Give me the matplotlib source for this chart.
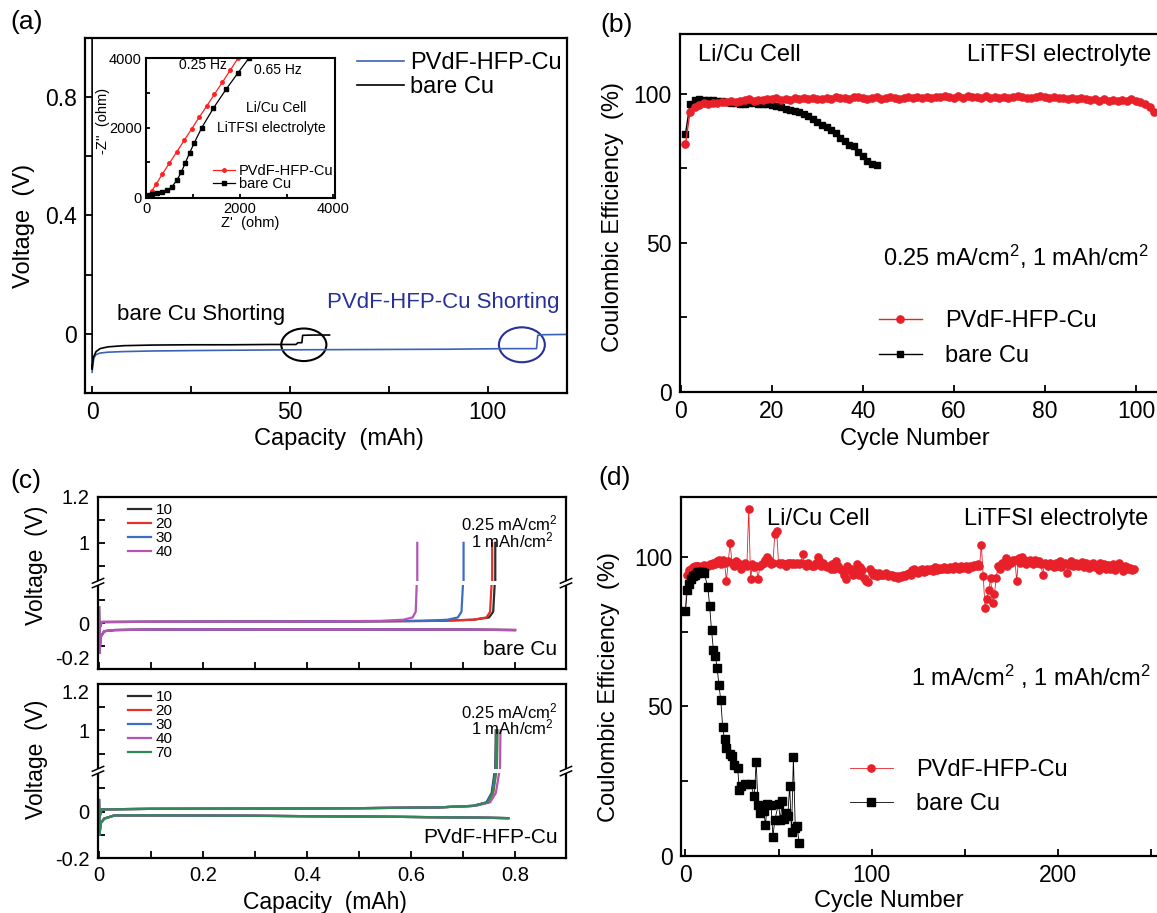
import numpy as np
import matplotlib
matplotlib.use("Agg")
import matplotlib.pyplot as plt
from matplotlib.patches import Ellipse, Rectangle
from matplotlib.ticker import MultipleLocator, FixedLocator, FixedFormatter, NullFormatter

plt.rcParams["font.family"] = ["Liberation Sans", "DejaVu Sans"]
plt.rcParams["mathtext.fontset"] = "custom"
plt.rcParams["mathtext.rm"] = "Liberation Sans"
plt.rcParams["mathtext.it"] = "Liberation Sans:italic"
plt.rcParams["mathtext.bf"] = "Liberation Sans:bold"

RED = "#e8202a"
BLUE = "#3b62b5"
NAVY = "#28309a"
C_COLORS = {"10": "#2b2b2b", "20": "#e8302a", "30": "#3c6fc4", "40": "#b455b6", "70": "#2e8b57"}

# ---------------- data ----------------
# (a) Li/Cu voltage vs capacity
a_bare_cap = [0, 0, 0.3, 1, 2, 4, 8, 15, 25, 35, 45, 51.5, 52, 53, 53.2, 56, 60]
a_bare_v = [1.2, -0.12, -0.08, -0.06, -0.05, -0.044, -0.04, -0.038, -0.037, -0.037,
            -0.036, -0.036, -0.03, -0.03, -0.005, -0.004, -0.004]
a_pvdf_cap = [0, 0.2, 0.5, 1, 2, 4, 8, 15, 30, 50, 70, 90, 105, 112.3, 112.6, 114, 120]
a_pvdf_v = [-0.13, -0.1, -0.08, -0.07, -0.065, -0.062, -0.06, -0.058, -0.056, -0.054,
            -0.053, -0.052, -0.05, -0.05, -0.005, -0.003, -0.002]
short_bare = (53.5, -0.037)
short_pvdf = (108.6, -0.037)

# (a) inset: Nyquist
eis_pvdf_re = [0, 40, 100, 200, 330, 480, 640, 800, 960, 1120, 1290, 1450, 1620, 1790, 1960]
eis_pvdf_im = [0, 40, 170, 380, 660, 970, 1300, 1630, 1960, 2290, 2630, 2960, 3300, 3650, 4000]
eis_bare_re = [0, 36, 100, 214, 320, 429, 540, 643, 740, 821, 920, 1020, 1179, 1429, 1700, 1950, 2193]
eis_bare_im = [0, 50, 90, 117, 150, 195, 300, 488, 720, 976, 1280, 1570, 2000, 2560, 3100, 3560, 4000]

# (b) CE at 0.25 mA/cm2
b_pvdf_cycle = list(range(1, 105))
b_pvdf_ce = [83, 94, 95.5, 96.2, 96.8, 96.5, 97, 96.8, 97.3, 97.2,
             97.6, 97.2, 97.5, 97.8, 98.1, 97.6, 98, 97.8, 98.3, 98.1,
             98.5, 97.9, 98.2, 98, 98.4, 98.1, 98.4, 98.2, 98.6, 98.3,
             98.2, 98.6, 98.3, 98.8, 98.4, 98.6, 98.3, 98.8, 99, 98.6,
             98.3, 98.6, 98.8, 98.3, 98.6, 98.9, 98.4, 98.2, 98.6, 98.9,
             98.5, 99, 98.4, 98.8, 98.6, 99, 98.8, 99.2, 99, 98.6,
             99.1, 98.6, 99.2, 99, 98.8, 98.6, 99.1, 98.6, 98.8, 98.4,
             98.8, 98.6, 99, 99.2, 98.8, 98.6, 98.4, 98.8, 99.3, 99,
             98.6, 98.8, 98.4, 98.6, 98.2, 98.4, 98.1, 98.5, 98.2, 97.9,
             98.2, 97.7, 98.1, 97.7, 97.9, 97.4, 97.9, 97.7, 98.1, 97.6,
             97.2, 96.6, 95.5, 94]
b_bare_cycle = list(range(1, 44))
b_bare_ce = [86.5, 96.5, 97.8, 98.2, 98, 97.8, 97.8, 97.6, 97.5, 97.3,
             97, 96.8, 96.5, 96.6, 96.8, 96.8, 96.7, 96.5, 96.5, 96.3,
             96, 95.5, 95, 94.6, 94.2, 93.8, 93.3, 92.5, 91.5, 90.5,
             89.5, 88.7, 87.8, 86.8, 85, 84, 82.8, 82.5, 80.5, 79,
             77.5, 76.5, 76]

# (c) voltage profiles, bare Cu
c_bare_plate_cap = [0, 0.001, 0.003, 0.01, 0.03, 0.1, 0.3, 0.5, 0.7, 0.8]
c_bare_plate_v = [0.07, -0.13, -0.06, -0.035, -0.03, -0.028, -0.027, -0.027, -0.028, -0.03]
c_bare_strip_v = [-0.03, 0.005, 0.006, 0.007, 0.008, 0.01, 0.015, 0.025, 0.05, 0.2, 0.5, 1.0]
c_bare_strip_cap = {
    "10": [0, 0.005, 0.1, 0.3, 0.5, 0.65, 0.72, 0.75, 0.758, 0.761, 0.762, 0.762],
    "20": [0, 0.005, 0.1, 0.3, 0.5, 0.65, 0.72, 0.745, 0.752, 0.755, 0.756, 0.756],
    "30": [0, 0.005, 0.1, 0.3, 0.5, 0.62, 0.67, 0.69, 0.697, 0.7, 0.701, 0.701],
    "40": [0, 0.005, 0.1, 0.3, 0.45, 0.54, 0.585, 0.603, 0.609, 0.611, 0.612, 0.612],
}
# (c) voltage profiles, PVdF-HFP-Cu
c_pvdf_plate_cap = [0, 0.001, 0.003, 0.01, 0.03, 0.1, 0.3, 0.5, 0.7, 0.787]
c_pvdf_plate_v = [0.05, -0.1, -0.05, -0.03, -0.016, -0.016, -0.018, -0.021, -0.025, -0.028]
c_pvdf_strip_v = [-0.03, 0.01, 0.012, 0.013, 0.015, 0.018, 0.025, 0.04, 0.08, 0.3, 0.6, 1.0]
c_pvdf_strip_cap = {
    "10": [0, 0.005, 0.1, 0.3, 0.5, 0.65, 0.72, 0.745, 0.755, 0.761, 0.762, 0.763],
    "20": [0, 0.005, 0.1, 0.3, 0.5, 0.65, 0.72, 0.748, 0.758, 0.764, 0.765, 0.766],
    "30": [0, 0.005, 0.1, 0.3, 0.5, 0.65, 0.72, 0.746, 0.756, 0.762, 0.763, 0.764],
    "40": [0, 0.005, 0.1, 0.3, 0.5, 0.65, 0.725, 0.752, 0.763, 0.77, 0.771, 0.772],
    "70": [0, 0.005, 0.1, 0.3, 0.5, 0.65, 0.72, 0.747, 0.757, 0.764, 0.765, 0.766],
}

# (d) CE at 1 mA/cm2
d_pvdf_cycle = list(range(0, 242))
d_pvdf_ce = [82, 94, 95.5, 96, 96.5, 96.8, 97, 97, 96.5, 97,
             97.2, 97, 96.8, 97.5, 97.3, 97.8, 97.5, 98.5, 98.8, 97.5,
             98.8, 98, 92, 98.5, 104.5, 98, 97, 98.5, 98, 97.5,
             96, 97, 98, 97, 116, 92.5, 97.5, 96.5, 97, 92.5,
             97, 97.5, 98, 99, 100, 99, 97.5, 98, 107.5, 108.8,
             98, 97.5, 98, 97.5, 97, 97.8, 98, 97.5, 97.8, 97.5,
             98, 97.5, 97.8, 101, 97.5, 97, 97.8, 97.2, 97, 96.8,
             98, 100, 99, 97, 98, 97, 96.5, 97, 96, 97.5,
             96, 98.5, 97, 96, 95.5, 94, 92.5, 97, 95.5, 96,
             94, 95, 97.5, 94, 96.5, 95.5, 93, 92, 91.5, 96,
             95, 94, 94.5, 93.5, 94.5, 94, 93.8, 94.3, 94.5, 93.5,
             94, 93.8, 93.2, 93.5, 93, 93.5, 93.3, 94, 93.5, 94.2,
             94.5, 94, 95.5, 95.8, 95, 94.5, 95.5, 96, 95, 95.3,
             95.8, 95.5, 96, 95.3, 96.5, 95.5, 96.3, 95.8, 96, 96.5,
             95.8, 96, 96.5, 96.3, 96, 97, 96.5, 95.8, 96.8, 96.3,
             96.5, 96.8, 96, 97, 96.5, 97.3, 96.8, 97.5, 96.8, 104,
             93.5, 83, 86, 89, 93, 84.5, 87.5, 93, 97, 96,
             98, 97.5, 99.5, 97, 98.5, 97.8, 98.8, 99, 92, 99.5,
             98, 100, 99, 97.5, 98.5, 99, 98, 97.5, 99, 97.8,
             98.5, 97.5, 94, 98, 97.5, 96.8, 98, 97.3, 96.5, 97.8,
             97, 98.5, 96.5, 97.5, 98, 94.5, 97.3, 98.5, 96.8, 97.5,
             98, 96.8, 97.5, 98.2, 96.5, 97.8, 97, 96.3, 97.5, 98,
             96.5, 97.3, 95.5, 97.8, 96.8, 97.5, 96, 97.3, 95.8, 96.8,
             97.5, 95.5, 96.8, 97.8, 96.5, 95.3, 97, 96.5, 95.8, 96.3,
             95.5, 96]
d_bare_cycle = [0, 1, 2, 3, 4, 5, 6, 7, 8, 9, 10, 12, 13, 14, 15, 16, 17, 18, 19, 20,
                21, 22, 24, 25, 26, 28, 29, 30, 32, 35, 37, 38, 39, 40, 42, 43, 44, 46,
                47, 48, 50, 51, 52, 53, 54, 55, 56, 57, 58, 59, 60, 61]
d_bare_ce = [82, 89, 91, 92.5, 93.5, 94, 94.5, 94.8, 95, 95, 94.5, 90, 83.5, 75.5, 69,
             67, 63, 57, 52, 43, 39, 36, 34, 33.5, 30.5, 29.5, 22, 23.5, 24, 24,
             20, 31.5, 17, 14.5, 15, 10.5, 17.5, 17, 6.5, 12, 17.5, 12, 18.5, 12.5,
             14.5, 13.5, 23.5, 8, 33, 9.5, 10, 4.5]

# ---------------- layout helpers ----------------
W, H = 1157, 913


def _rect(l, t, r, b):
    return [l / W, 1 - b / H, (r - l) / W, (b - t) / H]


def _style(ax, size, lw=1.6):
    for s in ax.spines.values():
        s.set_linewidth(lw)
    ax.tick_params(which="both", direction="in", top=False, right=False,
                   labelsize=size, width=1.3, length=5, pad=6)


fig = plt.figure(figsize=(W / 100, H / 100), dpi=100)

# ---------------- (a) ----------------
ax = fig.add_axes(_rect(85, 38, 567, 393))
_style(ax, 16.5)
l1, = ax.plot(a_pvdf_cap, a_pvdf_v, color=BLUE, lw=1.2)
l2, = ax.plot(a_bare_cap, a_bare_v, color="black", lw=1.2)
ax.set_xlim(-1.8, 120)
ax.set_ylim(-0.2, 1.0)
ax.xaxis.set_major_locator(FixedLocator([0, 50, 100]))
ax.xaxis.set_minor_locator(FixedLocator([25, 75]))
ax.yaxis.set_major_locator(FixedLocator([0, 0.4, 0.8]))
ax.yaxis.set_minor_locator(FixedLocator([0.2, 0.6]))
ax.set_yticklabels(["0", "0.4", "0.8"])
ax.set_xlabel("Capacity  (mAh)", fontsize=17)
ax.set_ylabel("Voltage  (V)", fontsize=17)
ax.xaxis.set_label_coords(0.527, -0.098)
ax.yaxis.set_label_coords(-0.104, 0.47)
ax.add_patch(Ellipse(short_bare, 11.4, 0.11, fill=False, ec="black", lw=1.5))
ax.add_patch(Ellipse(short_pvdf, 11.6, 0.118, fill=False, ec=NAVY, lw=1.5))
ax.text(0.066, 0.22, "bare Cu Shorting", transform=ax.transAxes, fontsize=16, va="center")
ax.text(0.502, 0.254, "PVdF-HFP-Cu Shorting", transform=ax.transAxes, fontsize=16,
        va="center", color=NAVY)
ax.legend([l1, l2], ["PVdF-HFP-Cu", "bare Cu"], loc="upper left",
          bbox_to_anchor=(0.564, 0.96), frameon=False, fontsize=17,
          handlelength=2.0, handletextpad=0.25, labelspacing=0.08,
          borderpad=0, borderaxespad=0)
fig.text(10 / W, 1 - 22 / H, "(a)", fontsize=19, va="center")

# inset
ai = fig.add_axes(_rect(146, 58, 335, 198))
_style(ai, 10.5, lw=1.5)
ai.tick_params(which="both", length=3, pad=3)
r1, = ai.plot(eis_pvdf_re, eis_pvdf_im, color="#ff2020", lw=0.9, marker="o", ms=2.5)
r2, = ai.plot(eis_bare_re, eis_bare_im, color="black", lw=0.9, marker="s", ms=2.2)
ai.set_xlim(-20, 4040)
ai.set_ylim(-25, 4000)
ai.xaxis.set_major_locator(FixedLocator([0, 2000, 4000]))
ai.yaxis.set_major_locator(FixedLocator([0, 2000, 4000]))
ai.xaxis.set_minor_locator(FixedLocator([1000, 3000]))
ai.yaxis.set_minor_locator(FixedLocator([1000, 3000]))
ai.set_xlabel("Z'  (ohm)", fontsize=10.5)
ai.set_ylabel("-Z''  (ohm)", fontsize=10.5)
ai.xaxis.set_label_coords(0.55, -0.13)
ai.yaxis.set_label_coords(-0.19, 0.55)
ai.text(1205, 3787, "0.25 Hz", fontsize=10, ha="center", va="center")
ai.text(2811, 3650, "0.65 Hz", fontsize=10, ha="center", va="center")
ai.text(2784, 2561, "Li/Cu Cell", fontsize=10, ha="center", va="center")
ai.text(2677, 1977, "LiTFSI electrolyte", fontsize=10, ha="center", va="center")
ai.legend([r1, r2], ["PVdF-HFP-Cu", "bare Cu"], loc="upper left",
          bbox_to_anchor=(0.356, 0.24), frameon=False, fontsize=10.5,
          handlelength=1.5, handletextpad=0.25, labelspacing=-0.1,
          borderpad=0, borderaxespad=0)

# ---------------- (b) ----------------
ax = fig.add_axes(_rect(680, 34, 1160, 392))
_style(ax, 16.5)
ax.spines["right"].set_visible(False)
hb, = ax.plot(b_bare_cycle, b_bare_ce, color="black", lw=1, marker="s", ms=4.5)
hr, = ax.plot(b_pvdf_cycle, b_pvdf_ce, color=RED, lw=1, marker="o", ms=5.2)
ax.set_xlim(-0.2, 105.3)
ax.set_ylim(0, 120)
ax.xaxis.set_major_locator(MultipleLocator(20))
ax.yaxis.set_major_locator(FixedLocator([0, 50, 100]))
ax.yaxis.set_minor_locator(FixedLocator([25, 75]))
ax.set_xlabel("Cycle Number", fontsize=17)
ax.set_ylabel("Coulombic Efficiency  (%)", fontsize=17)
ax.xaxis.set_label_coords(0.49, -0.1)
ax.yaxis.set_label_coords(-0.117, 0.49)
ax.text(0.0375, 0.941, "Li/Cu Cell", transform=ax.transAxes, fontsize=17, va="center")
ax.text(0.598, 0.941, "LiTFSI electrolyte", transform=ax.transAxes, fontsize=17, va="center")
ax.text(0.423, 0.377, "0.25 mA/cm$^2$, 1 mAh/cm$^2$", transform=ax.transAxes,
        fontsize=17, va="center")
ax.legend([hr, hb], ["PVdF-HFP-Cu", "bare Cu"], loc="upper left",
          bbox_to_anchor=(0.415, 0.229), frameon=False, fontsize=17,
          handlelength=1.8, handletextpad=1.0, labelspacing=0.55,
          borderpad=0, borderaxespad=0)
fig.text(600 / W, 1 - 25 / H, "(b)", fontsize=19, va="center")

# ---------------- (c) ----------------
LO, HI, EPS = 0.175, 0.825, 1e-3


def _fwd(y):
    y = np.asarray(y, dtype=float)
    return np.where(y <= LO, y,
                    np.where(y >= HI, LO + (HI - LO) * EPS + (y - HI), LO + (y - LO) * EPS))


def _inv(y):
    y = np.asarray(y, dtype=float)
    top = LO + (HI - LO) * EPS
    return np.where(y <= LO, y,
                    np.where(y >= top, HI + (y - top), LO + (y - LO) / EPS))


def _add_break(ax):
    lo, hi = _fwd(-0.2), _fwd(1.2)
    y0 = float((_fwd(LO) - lo) / (hi - lo))
    ax.add_patch(Rectangle((-0.02, y0 - 0.012), 1.04, 0.024, transform=ax.transAxes,
                           facecolor="white", edgecolor="none", clip_on=False, zorder=3))
    for x in (0, 1):
        for dy in (-0.013, 0.013):
            ax.plot([x - 0.012, x + 0.012], [y0 + dy - 0.014, y0 + dy + 0.014],
                    transform=ax.transAxes, color="black", lw=1.1, clip_on=False, zorder=4)


def _panel_c(ax, plate_cap, plate_v, strip_cap, strip_v, name, legend_top):
    _style(ax, 14.5)
    ax.set_yscale("function", functions=(_fwd, _inv))
    handles = []
    for key, caps in strip_cap.items():
        col = C_COLORS[key]
        ax.plot(plate_cap, plate_v, color=col, lw=1.6)
        h, = ax.plot(caps, strip_v, color=col, lw=1.6)
        handles.append(h)
    ax.set_xlim(-0.002, 0.898)
    ax.set_ylim(-0.2, 1.2)
    ax.yaxis.set_major_locator(FixedLocator([-0.2, 0, 1, 1.2]))
    ax.yaxis.set_minor_locator(FixedLocator([-0.1, 0.1, 0.9, 1.1]))
    ax.yaxis.set_major_formatter(FixedFormatter(["-0.2", "0", "1", "1.2"]))
    ax.yaxis.set_minor_formatter(NullFormatter())
    ax.set_ylabel("Voltage  (V)", fontsize=16.5)
    ax.legend(handles, list(strip_cap.keys()), loc="upper left",
              bbox_to_anchor=(0.064, legend_top), frameon=False, fontsize=11,
              handlelength=1.5, handletextpad=0.3, labelspacing=0.0,
              borderpad=0, borderaxespad=0)
    ax.text(0.982, 0.845, "0.25 mA/cm$^2$", transform=ax.transAxes, fontsize=12,
            ha="right", va="center")
    ax.text(0.975, 0.75, "1 mAh/cm$^2$", transform=ax.transAxes, fontsize=12,
            ha="right", va="center")
    ax.text(0.982, 0.115, name, transform=ax.transAxes, fontsize=15,
            ha="right", va="center")
    _add_break(ax)


ax_c1 = fig.add_axes(_rect(98, 497, 566, 669))
_panel_c(ax_c1, c_bare_plate_cap, c_bare_plate_v, c_bare_strip_cap, c_bare_strip_v,
         "bare Cu", 0.965)
ax_c1.xaxis.set_major_locator(MultipleLocator(0.1))
ax_c1.set_xticklabels([])
ax_c1.yaxis.set_label_coords(-0.107, 0.6)
ax_c1.yaxis.get_major_ticks()[0].label1.set_va("bottom")

ax_c2 = fig.add_axes(_rect(98, 684, 566, 858))
_panel_c(ax_c2, c_pvdf_plate_cap, c_pvdf_plate_v, c_pvdf_strip_cap, c_pvdf_strip_v,
         "PVdF-HFP-Cu", 0.965)
ax_c2.xaxis.set_major_locator(FixedLocator([0, 0.2, 0.4, 0.6, 0.8]))
ax_c2.xaxis.set_minor_locator(MultipleLocator(0.1))
ax_c2.set_xticklabels(["0", "0.2", "0.4", "0.6", "0.8"])
ax_c2.set_xlabel("Capacity  (mAh)", fontsize=16.5)
ax_c2.xaxis.set_label_coords(0.485, -0.19)
ax_c2.yaxis.set_label_coords(-0.107, 0.57)
ax_c2.yaxis.get_major_ticks()[3].label1.set_va("top")
fig.text(10 / W, 1 - 481 / H, "(c)", fontsize=19, va="center")

# ---------------- (d) ----------------
ax = fig.add_axes(_rect(681, 497, 1160, 856))
_style(ax, 16.5)
ax.spines["right"].set_visible(False)
dr, = ax.plot(d_pvdf_cycle, d_pvdf_ce, color=RED, lw=0.6, marker="o", ms=5.2)
db, = ax.plot(d_bare_cycle, d_bare_ce, color="black", lw=0.6, marker="s", ms=5.2)
ax.set_xlim(-2.4, 255)
ax.set_ylim(0, 120)
ax.xaxis.set_major_locator(FixedLocator([0, 100, 200]))
ax.xaxis.set_minor_locator(FixedLocator([50, 150, 250]))
ax.yaxis.set_major_locator(FixedLocator([0, 50, 100]))
ax.yaxis.set_minor_locator(FixedLocator([25, 75]))
ax.set_xlabel("Cycle Number", fontsize=17)
ax.set_ylabel("Coulombic Efficiency  (%)", fontsize=17)
ax.xaxis.set_label_coords(0.434, -0.095)
ax.yaxis.set_label_coords(-0.127, 0.47)
ax.text(0.18, 0.94, "Li/Cu Cell", transform=ax.transAxes, fontsize=17, va="center")
ax.text(0.591, 0.94, "LiTFSI electrolyte", transform=ax.transAxes, fontsize=17, va="center")
ax.text(0.48, 0.5, "1 mA/cm$^2$ , 1 mAh/cm$^2$", transform=ax.transAxes,
        fontsize=17, va="center")
ax.legend([dr, db], ["PVdF-HFP-Cu", "bare Cu"], loc="upper left",
          bbox_to_anchor=(0.353, 0.27), frameon=False, fontsize=17,
          handlelength=1.8, handletextpad=1.0, labelspacing=0.5,
          borderpad=0, borderaxespad=0)
fig.text(598 / W, 1 - 478 / H, "(d)", fontsize=19, va="center")

fig.savefig("out.png", dpi=100)
